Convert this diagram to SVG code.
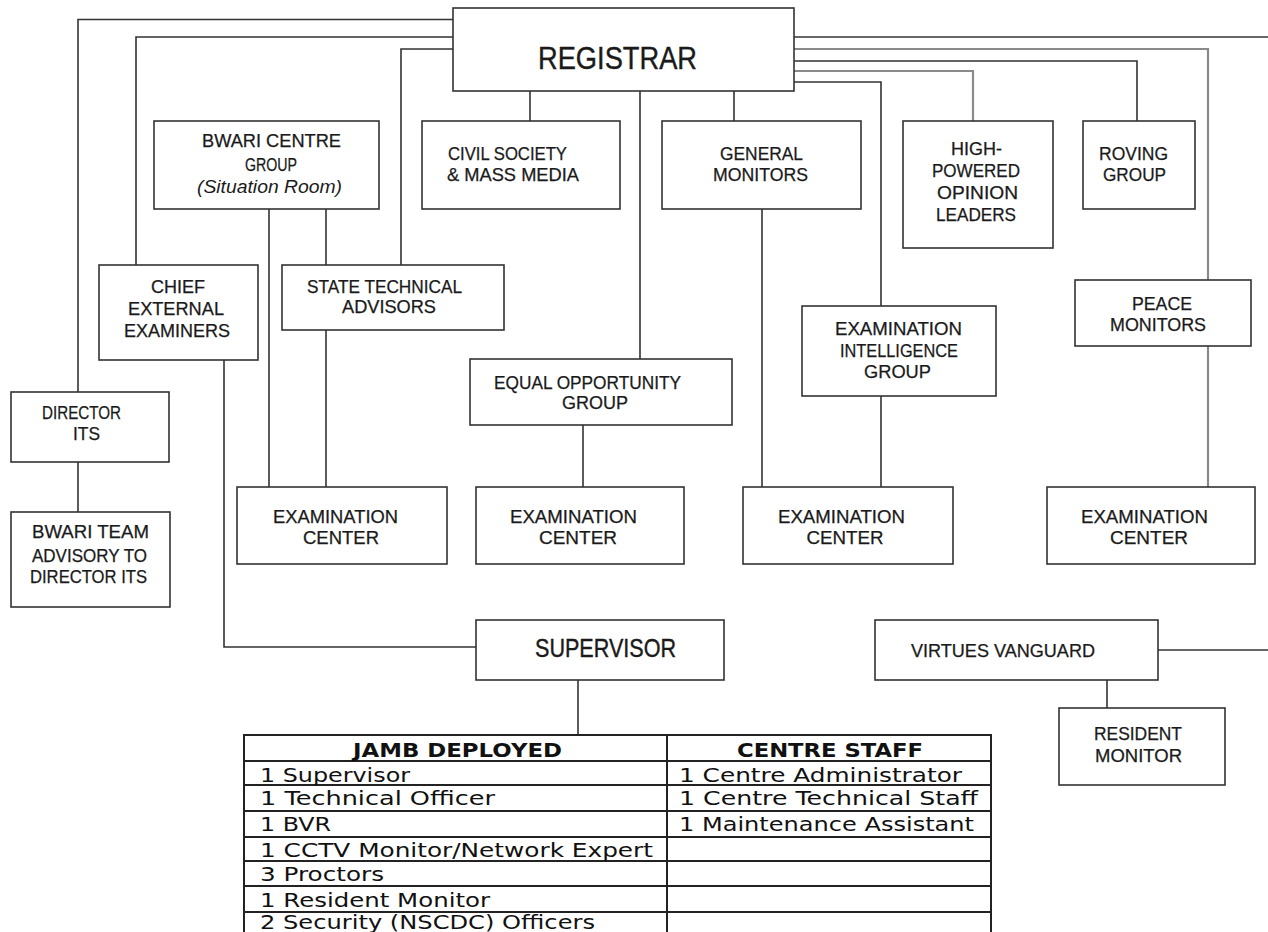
<svg xmlns="http://www.w3.org/2000/svg" width="1268" height="932" viewBox="0 0 1268 932">
<style>
.bg{fill:#ffffff}
.box{fill:#ffffff;stroke:#333333;stroke-width:1.6}
.ln{fill:none;stroke:#333333;stroke-width:1.6}
.lg{fill:none;stroke:#8a8a8a;stroke-width:2.2}
.t{font-family:"Liberation Sans",Arial,sans-serif;font-size:18px;fill:#1a1a1a;stroke:#1a1a1a;stroke-width:0.25;text-anchor:middle}
.ti{font-family:"Liberation Sans",Arial,sans-serif;font-size:18px;fill:#1a1a1a;text-anchor:middle;font-style:italic}
.tb{font-family:"Liberation Sans",Arial,sans-serif;fill:#1a1a1a;stroke:#1a1a1a;stroke-width:0.4;text-anchor:middle}
.tt{font-family:"DejaVu Sans",Verdana,sans-serif;font-size:20px;fill:#111111}
.th{font-family:"DejaVu Sans",Verdana,sans-serif;font-size:20px;font-weight:bold;fill:#111111;text-anchor:middle}
.tl{fill:none;stroke:#222222;stroke-width:2}
</style>
<rect class="bg" x="0" y="0" width="1268" height="932"/>
<g id="connectors">
<path class="ln" d="M453,19.5 H78 V392"/>
<path class="ln" d="M453,37 H136 V265"/>
<path class="ln" d="M453,49 H401 V265"/>
<path class="ln" d="M794,37 H1268"/>
<path class="lg" d="M794,49 H1208 V280"/>
<path class="lg" d="M1208,346 V487"/>
<path class="ln" d="M794,61 H1137 V121"/>
<path class="lg" d="M794,71 H973 V121"/>
<path class="ln" d="M794,82 H881 V306"/>
<path class="ln" d="M881,396 V487"/>
<path class="ln" d="M530,91 V121"/>
<path class="ln" d="M640,91 V359"/>
<path class="ln" d="M734,91 V121"/>
<path class="ln" d="M269,209 V487"/>
<path class="ln" d="M326,209 V265"/>
<path class="ln" d="M326,330 V487"/>
<path class="ln" d="M762,209 V487"/>
<path class="ln" d="M583,425 V487"/>
<path class="ln" d="M78,462 V512"/>
<path class="ln" d="M224,360 V647 H476"/>
<path class="ln" d="M578,680 V735"/>
<path class="ln" d="M1158,650 H1268"/>
<path class="ln" d="M1107,680 V708"/>
</g>
<g id="registrar">
<rect class="box" x="453" y="8" width="341" height="83"/>
<text class="tb" x="617.5" y="69" font-size="32" textLength="159" lengthAdjust="spacingAndGlyphs">REGISTRAR</text>
</g>
<g id="bwari-centre-group">
<rect class="box" x="154" y="121" width="225" height="88"/>
<text class="t" x="271.5" y="147" textLength="139" lengthAdjust="spacingAndGlyphs">BWARI  CENTRE</text>
<text class="t" x="271" y="171" textLength="52" lengthAdjust="spacingAndGlyphs">GROUP</text>
<text class="ti" x="269.5" y="193" textLength="145" lengthAdjust="spacingAndGlyphs">(Situation  Room)</text>
</g>
<g id="civil-society">
<rect class="box" x="422" y="121" width="198" height="88"/>
<text class="t" x="507.5" y="160" textLength="119" lengthAdjust="spacingAndGlyphs">CIVIL  SOCIETY</text>
<text class="t" x="513" y="181" textLength="132" lengthAdjust="spacingAndGlyphs">&amp; MASS MEDIA</text>
</g>
<g id="general-monitors">
<rect class="box" x="662" y="121" width="199" height="88"/>
<text class="t" x="761.5" y="160" textLength="83" lengthAdjust="spacingAndGlyphs">GENERAL</text>
<text class="t" x="760.5" y="181" textLength="95" lengthAdjust="spacingAndGlyphs">MONITORS</text>
</g>
<g id="high-powered">
<rect class="box" x="903" y="121" width="150" height="127"/>
<text class="t" x="976.5" y="155" textLength="51" lengthAdjust="spacingAndGlyphs">HIGH-</text>
<text class="t" x="976" y="177" textLength="88" lengthAdjust="spacingAndGlyphs">POWERED</text>
<text class="t" x="977.5" y="199" textLength="81" lengthAdjust="spacingAndGlyphs">OPINION</text>
<text class="t" x="976" y="221" textLength="80" lengthAdjust="spacingAndGlyphs">LEADERS</text>
</g>
<g id="roving-group">
<rect class="box" x="1083" y="121" width="112" height="88"/>
<text class="t" x="1133.5" y="160" textLength="69" lengthAdjust="spacingAndGlyphs">ROVING</text>
<text class="t" x="1134.5" y="181" textLength="63" lengthAdjust="spacingAndGlyphs">GROUP</text>
</g>
<g id="chief-external-examiners">
<rect class="box" x="99" y="265" width="159" height="95"/>
<text class="t" x="178" y="293" textLength="54" lengthAdjust="spacingAndGlyphs">CHIEF</text>
<text class="t" x="176" y="315" textLength="96" lengthAdjust="spacingAndGlyphs">EXTERNAL</text>
<text class="t" x="177" y="337">EXAMINERS</text>
</g>
<g id="state-technical-advisors">
<rect class="box" x="282" y="265" width="222" height="65"/>
<text class="t" x="384.5" y="293" textLength="155" lengthAdjust="spacingAndGlyphs">STATE  TECHNICAL</text>
<text class="t" x="389" y="313" textLength="94" lengthAdjust="spacingAndGlyphs">ADVISORS</text>
</g>
<g id="director-its">
<rect class="box" x="11" y="392" width="158" height="70"/>
<text class="t" x="81.5" y="419" textLength="79" lengthAdjust="spacingAndGlyphs">DIRECTOR</text>
<text class="t" x="86.5" y="440" textLength="27" lengthAdjust="spacingAndGlyphs">ITS</text>
</g>
<g id="bwari-team">
<rect class="box" x="11" y="512" width="159" height="95"/>
<text class="t" x="90.5" y="538" textLength="117" lengthAdjust="spacingAndGlyphs">BWARI  TEAM</text>
<text class="t" x="89.5" y="562" textLength="115" lengthAdjust="spacingAndGlyphs">ADVISORY  TO</text>
<text class="t" x="88.5" y="583" textLength="117" lengthAdjust="spacingAndGlyphs">DIRECTOR  ITS</text>
</g>
<g id="exam-center-1">
<rect class="box" x="237" y="487" width="210" height="77"/>
<text class="t" x="335.5" y="523" textLength="125" lengthAdjust="spacingAndGlyphs">EXAMINATION</text>
<text class="t" x="341" y="544" textLength="76" lengthAdjust="spacingAndGlyphs">CENTER</text>
</g>
<g id="equal-opportunity">
<rect class="box" x="470" y="359" width="262" height="66"/>
<text class="t" x="587.5" y="389" textLength="187" lengthAdjust="spacingAndGlyphs">EQUAL  OPPORTUNITY</text>
<text class="t" x="595" y="409" textLength="66" lengthAdjust="spacingAndGlyphs">GROUP</text>
</g>
<g id="exam-center-2">
<rect class="box" x="476" y="487" width="208" height="77"/>
<text class="t" x="573.5" y="523" textLength="127" lengthAdjust="spacingAndGlyphs">EXAMINATION</text>
<text class="t" x="578" y="544" textLength="78" lengthAdjust="spacingAndGlyphs">CENTER</text>
</g>
<g id="exam-intelligence">
<rect class="box" x="802" y="306" width="194" height="90"/>
<text class="t" x="898.5" y="335" textLength="127" lengthAdjust="spacingAndGlyphs">EXAMINATION</text>
<text class="t" x="899" y="357" textLength="118" lengthAdjust="spacingAndGlyphs">INTELLIGENCE</text>
<text class="t" x="897.5" y="378" textLength="67" lengthAdjust="spacingAndGlyphs">GROUP</text>
</g>
<g id="exam-center-3">
<rect class="box" x="743" y="487" width="210" height="77"/>
<text class="t" x="841.5" y="523" textLength="127" lengthAdjust="spacingAndGlyphs">EXAMINATION</text>
<text class="t" x="845" y="544" textLength="77" lengthAdjust="spacingAndGlyphs">CENTER</text>
</g>
<g id="peace-monitors">
<rect class="box" x="1075" y="280" width="176" height="66"/>
<text class="t" x="1162" y="310" textLength="60" lengthAdjust="spacingAndGlyphs">PEACE</text>
<text class="t" x="1158" y="331" textLength="96" lengthAdjust="spacingAndGlyphs">MONITORS</text>
</g>
<g id="exam-center-4">
<rect class="box" x="1047" y="487" width="208" height="77"/>
<text class="t" x="1144.5" y="523" textLength="127" lengthAdjust="spacingAndGlyphs">EXAMINATION</text>
<text class="t" x="1149" y="544" textLength="78" lengthAdjust="spacingAndGlyphs">CENTER</text>
</g>
<g id="supervisor">
<rect class="box" x="476" y="620" width="248" height="60"/>
<text class="tb" x="605.5" y="657" font-size="25" textLength="141" lengthAdjust="spacingAndGlyphs">SUPERVISOR</text>
</g>
<g id="virtues-vanguard">
<rect class="box" x="875" y="620" width="283" height="60"/>
<text class="t" x="1003" y="657" textLength="184" lengthAdjust="spacingAndGlyphs">VIRTUES  VANGUARD</text>
</g>
<g id="resident-monitor">
<rect class="box" x="1059" y="708" width="166" height="77"/>
<text class="t" x="1138" y="740" textLength="88" lengthAdjust="spacingAndGlyphs">RESIDENT</text>
<text class="t" x="1138.5" y="762" textLength="87" lengthAdjust="spacingAndGlyphs">MONITOR</text>
</g>
<g id="staff-table">
<rect class="tl" x="244" y="735" width="747" height="210"/>
<path class="tl" d="M667,735 V945 M244,761 H991 M244,785 H991 M244,811 H991 M244,837 H991 M244,861 H991 M244,886 H991 M244,912 H991"/>
<text class="th" x="457.5" y="757" textLength="209" lengthAdjust="spacingAndGlyphs">JAMB DEPLOYED</text>
<text class="th" x="830" y="757" textLength="186" lengthAdjust="spacingAndGlyphs">CENTRE STAFF</text>
<text class="tt" x="260" y="782" textLength="150" lengthAdjust="spacingAndGlyphs">1 Supervisor</text>
<text class="tt" x="260" y="805" textLength="235" lengthAdjust="spacingAndGlyphs">1 Technical Officer</text>
<text class="tt" x="260" y="831" textLength="71" lengthAdjust="spacingAndGlyphs">1 BVR</text>
<text class="tt" x="260" y="857" textLength="393" lengthAdjust="spacingAndGlyphs">1 CCTV Monitor/Network Expert</text>
<text class="tt" x="260" y="881" textLength="124" lengthAdjust="spacingAndGlyphs">3 Proctors</text>
<text class="tt" x="260" y="907" textLength="230" lengthAdjust="spacingAndGlyphs">1 Resident Monitor</text>
<text class="tt" x="260" y="929" textLength="335" lengthAdjust="spacingAndGlyphs">2 Security (NSCDC) Officers</text>
<text class="tt" x="679" y="782" textLength="283" lengthAdjust="spacingAndGlyphs">1 Centre Administrator</text>
<text class="tt" x="679" y="805" textLength="299" lengthAdjust="spacingAndGlyphs">1 Centre Technical Staff</text>
<text class="tt" x="679" y="831" textLength="295" lengthAdjust="spacingAndGlyphs">1 Maintenance Assistant</text>
</g>
</svg>
